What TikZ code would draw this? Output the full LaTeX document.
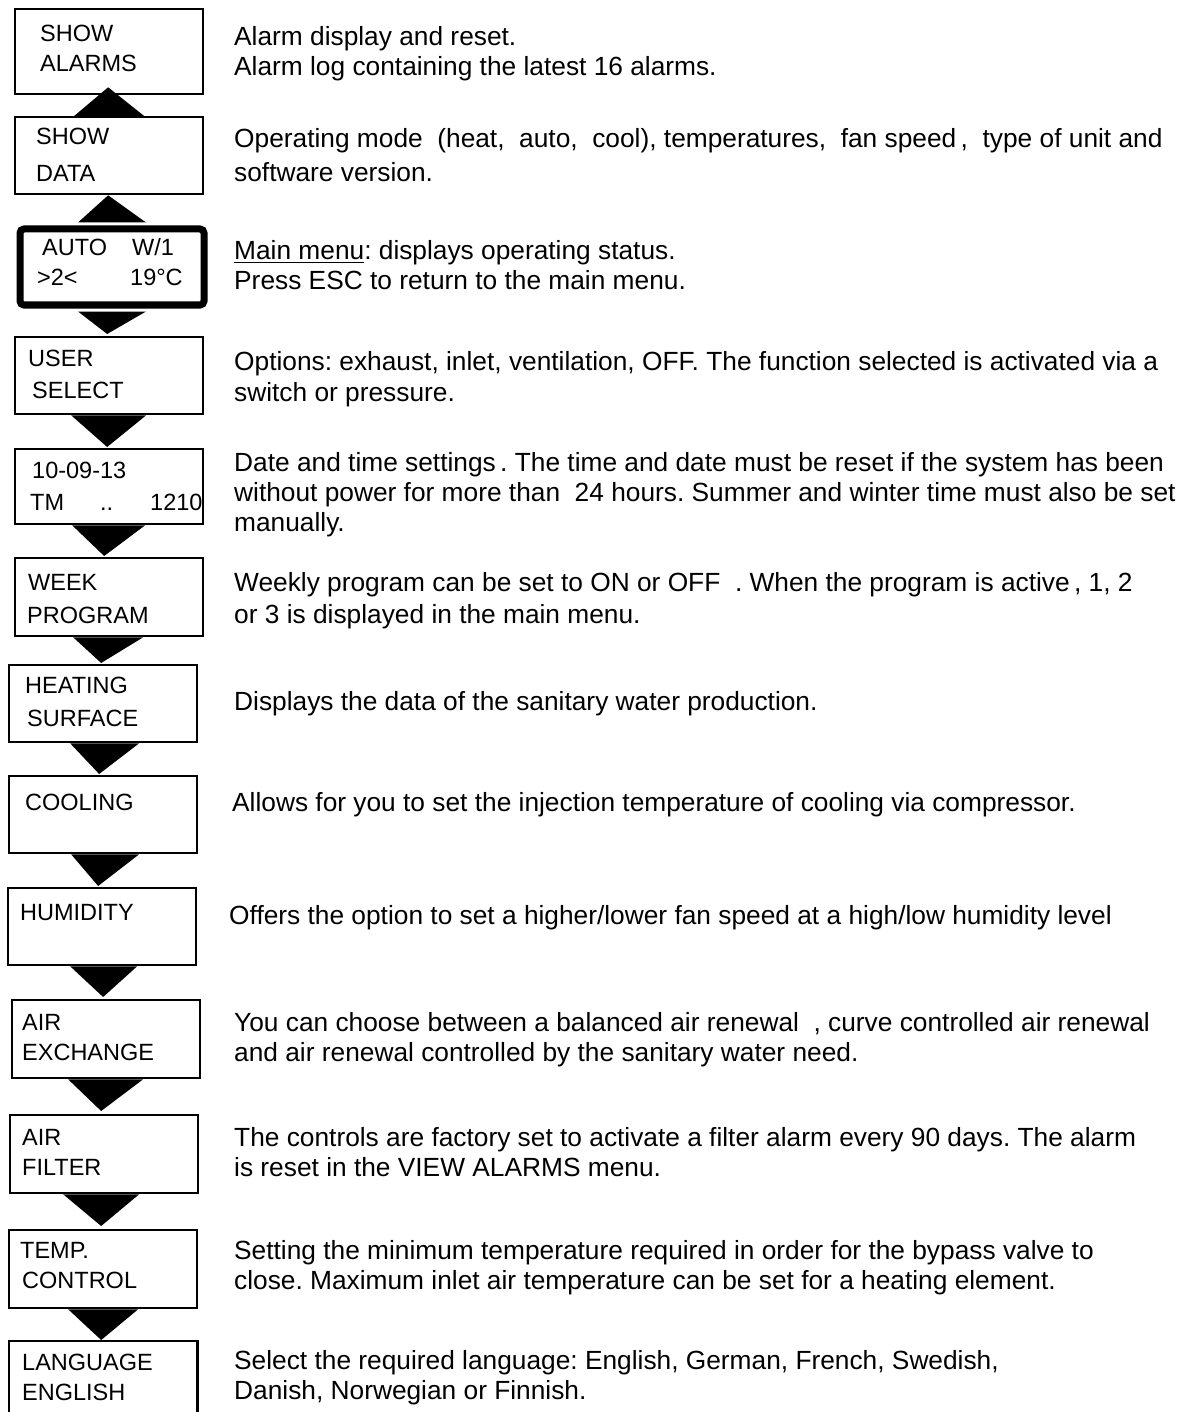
\documentclass[tikz,border=0pt]{standalone}
\usepackage{fontspec}
\setmainfont{Liberation Sans}
\usetikzlibrary{calc}
\frenchspacing
\newcommand\ulin[1]{\setbox0\hbox{#1}\rlap{\rule[-3.8pt]{\wd0}{1.5pt}}\box0}
\begin{document}
\begin{tikzpicture}[x=1pt,y=-1pt,
  menubox/.style={draw, line width=2.3pt, fill=white, anchor=north west,
    minimum width=#1, inner sep=0pt},
  menubox/.default=188pt,
  lbl/.style={anchor=base west, inner sep=0pt, yshift=-8.4pt,
    font=\fontsize{23.5}{28}\selectfont},
  desc/.style={anchor=base west, inner sep=0pt, yshift=-9.4pt,
    font=\fontsize{26.3}{30}\selectfont},
  link/.style={fill=black}]
\useasboundingbox (0,0) rectangle (1188,1412);
\clip (0,0) rectangle (1188,1412);
\fill[white] (0,0) rectangle (1188,1412);

% menu boxes
\node[menubox, minimum height=85pt] (b1) at (14,8) {};
\node[menubox, minimum height=77pt] (b2) at (14,116) {};
\node[draw, line width=7pt, rounded corners=4pt, fill=white, anchor=north west,
  minimum width=184pt, minimum height=76pt, inner sep=0pt] (b3) at (16.5,225.5) {};
\node[menubox, minimum height=77pt] (b4) at (14,336) {};
\node[menubox, minimum height=75pt] (b5) at (14,448) {};
\node[menubox, minimum height=78pt] (b6) at (14,557) {};
\node[menubox, minimum height=77pt] (b7) at (8,664) {};
\node[menubox, minimum height=77pt] (b8) at (8,775) {};
\node[menubox, minimum height=77pt] (b9) at (7,887) {};
\node[menubox, minimum height=78pt] (b10) at (11,999) {};
\node[menubox, minimum height=78pt] (b11) at (9,1114) {};
\node[menubox, minimum height=78pt] (b12) at (8,1229) {};
\node[anchor=north west, minimum width=188pt, minimum height=120pt, inner sep=0pt] (b13) at (9,1341) {};
\draw[line width=2.3pt] (b13.south west) -- (b13.north west) -- (b13.north east) -- (b13.south east);

% arrow-like connectors between the boxes
\fill[link] ($(b2.north)+(-35,0)$) -- ($(b2.north)+(35,0)$) -- ($(b1.south)+(-1,-8)$) -- cycle;
\fill[link] ($(b3.north)+(-34,-3)$) -- ($(b3.north)+(34,-3)$) -- ($(b2.south)+(-1,0)$) -- cycle;
\fill[link] ($(b3.south)+(-34,3)$) -- ($(b3.south)+(34,3)$) -- ($(b4.north)+(-2,-2)$) -- cycle;
\fill[link] ($(b4.south)+(-38,0)$) -- ($(b4.south)+(37,0)$) -- ($(b5.north)+(-2,-1)$) -- cycle;
\fill[link] ($(b5.south)+(-37,0)$) -- ($(b5.south)+(36,0)$) -- ($(b6.north)+(-5,-1)$) -- cycle;
\fill[link] ($(b6.south)+(-36,0)$) -- ($(b6.south)+(34,0)$) -- ($(b7.north)+(-2,-1)$) -- cycle;
\fill[link] ($(b7.south)+(-33,0)$) -- ($(b7.south)+(36,0)$) -- ($(b8.north)+(-4,-1)$) -- cycle;
\fill[link] ($(b8.south)+(-32,0)$) -- ($(b8.south)+(36,0)$) -- ($(b9.north)+(-4,-1)$) -- cycle;
\fill[link] ($(b9.south)+(-32,0)$) -- ($(b9.south)+(35,0)$) -- ($(b10.north)+(-3,-2)$) -- cycle;
\fill[link] ($(b10.south)+(-38,0)$) -- ($(b10.south)+(37,0)$) -- ($(b11.north)+(-3,-3)$) -- cycle;
\fill[link] ($(b11.south)+(-41,0)$) -- ($(b11.south)+(35,0)$) -- ($(b12.north)+(-2,-3)$) -- cycle;
\fill[link] ($(b12.south)+(-35,0)$) -- ($(b12.south)+(35,0)$) -- ($(b13.north)+(-2,-1)$) -- cycle;

% box labels
\node[lbl] (l1a) at (40,33) {SHOW};
\node[lbl] (l1b) at (40,63) {ALARMS};
\node[lbl] (l2a) at (36,136) {SHOW};
\node[lbl] (l2b) at (36,173) {DATA};
\node[lbl] (l3a) at (42,247) {AUTO};
\node[lbl] (l3b) at (132,247) {W/1};
\node[lbl] (l3c) at (37,277) {>2<};
\node[lbl] (l3d) at (130,277) {19°C};
\node[lbl] (l4a) at (28,358) {USER};
\node[lbl] (l4b) at (32,390) {SELECT};
\node[lbl] (l5a) at (32,470) {10-09-13};
\node[lbl] (l5b) at (30,502) {TM};
\node[lbl] (l5c) at (100,502) {..};
\node[lbl] (l5d) at (150,502) {1210};
\node[lbl] (l6a) at (28,582) {WEEK};
\node[lbl] (l6b) at (27,615) {PROGRAM};
\node[lbl] (l7a) at (25,685) {HEATING};
\node[lbl] (l7b) at (27,718) {SURFACE};
\node[lbl] (l8a) at (25,802) {COOLING};
\node[lbl] (l9a) at (20,912) {HUMIDITY};
\node[lbl] (l10a) at (22,1022) {AIR};
\node[lbl] (l10b) at (22,1052) {EXCHANGE};
\node[lbl] (l11a) at (22,1137) {AIR};
\node[lbl] (l11b) at (22,1167) {FILTER};
\node[lbl] (l12a) at (20,1250) {TEMP.};
\node[lbl] (l12b) at (22,1280) {CONTROL};
\node[lbl] (l13a) at (22,1362) {LANGUAGE};
\node[lbl] (l13b) at (22,1392) {ENGLISH};

% descriptions
\node[desc] (d1a) at (234,36) {Alarm display and reset.};
\node[desc] (d1b) at (234,66) {Alarm log containing the latest 16 alarms.};
\node[desc] (d2a) at (234,138) {Operating mode~ (heat, ~auto, ~cool), temperatures, ~fan speed\,, ~type of unit and};
\node[desc] (d2b) at (234,172) {software version.};
\node[desc] (d3a) at (234,250) {\ulin{Main menu}: displays operating status.};
\node[desc] (d3b) at (234,280) {Press ESC to return to the main menu.};
\node[desc] (d4a) at (234,361) {Options: exhaust, inlet, ventilation, OFF. The function selected is activated via a};
\node[desc] (d4b) at (234,392) {switch or pressure.};
\node[desc] (d5a) at (234,462) {Date and time settings\,. The time and date must be reset if the system has been};
\node[desc] (d5b) at (234,492) {without power for more than~ 24 hours. Summer and winter time must also be set};
\node[desc] (d5c) at (234,522) {manually.};
\node[desc] (d6a) at (234,582) {Weekly program can be set to ON or OFF~ . When the program is active\,, 1, 2};
\node[desc] (d6b) at (234,614) {or 3 is displayed in the main menu.};
\node[desc] (d7a) at (234,701) {Displays the data of the sanitary water production.};
\node[desc] (d8a) at (232,802) {Allows for you to set the injection temperature of cooling via compressor.};
\node[desc] (d9a) at (229,915) {Offers the option to set a higher/lower fan speed at a high/low humidity level};
\node[desc] (d10a) at (234,1022) {You can choose between a balanced air renewal~ , curve controlled air renewal};
\node[desc] (d10b) at (234,1052) {and air renewal controlled by the sanitary water need.};
\node[desc] (d11a) at (234,1137) {The controls are factory set to activate a filter alarm every 90 days. The alarm};
\node[desc] (d11b) at (234,1167) {is reset in the VIEW ALARMS menu.};
\node[desc] (d12a) at (234,1250) {Setting the minimum temperature required in order for the bypass valve to};
\node[desc] (d12b) at (234,1280) {close. Maximum inlet air temperature can be set for a heating element.};
\node[desc] (d13a) at (234,1360) {Select the required language: English, German, French, Swedish,};
\node[desc] (d13b) at (234,1390) {Danish, Norwegian or Finnish.};
\end{tikzpicture}
\end{document}
